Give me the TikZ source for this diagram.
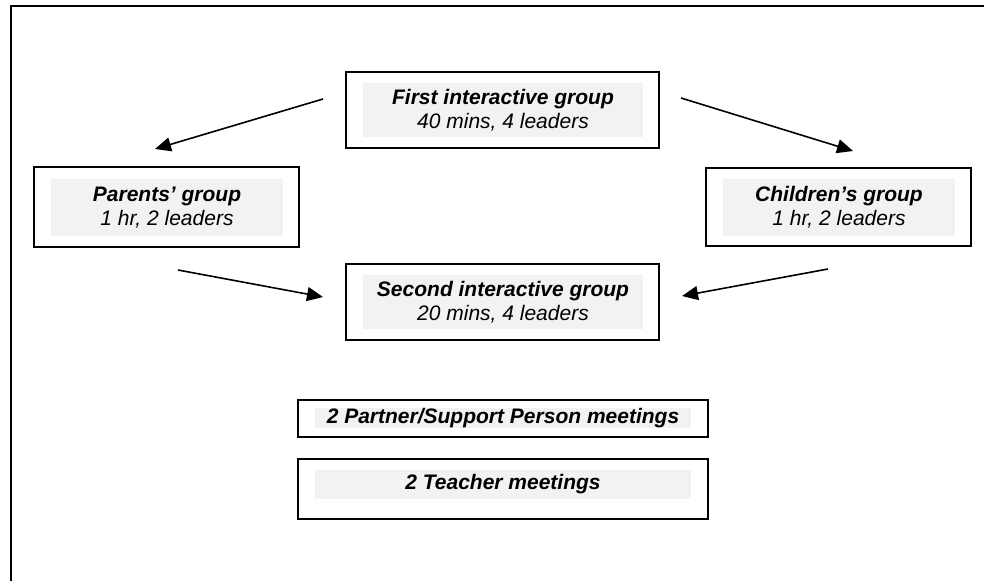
\documentclass[tikz,border=0pt]{standalone}
\usepackage{fontspec}
\setmainfont{Liberation Sans}
\usetikzlibrary{arrows.meta}
\definecolor{shade}{HTML}{F2F2F2}
\tikzset{
  x=1pt, y=-1pt,
  frame/.style={draw=black, line width=1.8pt, fill=white, inner sep=0pt},
  inner/.style={fill=shade, inner sep=0pt, align=center,
    font=\fontsize{21}{24}\selectfont\itshape},
  conn/.style={line width=1.6pt, -{Triangle[length=16pt,width=14pt]}},
  outline/.style={line width=1.8pt, draw=black}
}
\begin{document}
\begin{tikzpicture}
\useasboundingbox (0,0) rectangle (984,581);
\draw[outline] (11,581) -- (11,6) -- (984,6);

% boxes
\node[frame, minimum width=313pt, minimum height=76pt] (firstbox) at (502.5,110) {};
\node[inner, minimum width=280pt, minimum height=54pt] (first) at (503,110)
  {\textbf{First interactive group}\\40 mins, 4 leaders};

\node[frame, minimum width=265pt, minimum height=80pt] (parentsbox) at (166.5,207) {};
\node[inner, minimum width=232pt, minimum height=57pt] (parents) at (167,207.5)
  {\textbf{Parents’ group}\\1 hr, 2 leaders};

\node[frame, minimum width=265pt, minimum height=78pt] (childrenbox) at (838.5,207) {};
\node[inner, minimum width=232pt, minimum height=57pt] (children) at (839,207.5)
  {\textbf{Children’s group}\\1 hr, 2 leaders};

\node[frame, minimum width=313pt, minimum height=76pt] (secondbox) at (502.5,302) {};
\node[inner, minimum width=280pt, minimum height=54pt] (second) at (503,302)
  {\textbf{Second interactive group}\\20 mins, 4 leaders};

\node[frame, minimum width=410pt, minimum height=37pt] (partnerbox) at (503,418.5) {};
\node[inner, minimum width=376pt, minimum height=19pt] (partner) at (503,418)
  {\textbf{2 Partner/Support Person meetings}};

\node[frame, minimum width=410pt, minimum height=60pt] (teacherbox) at (503,489) {};
\node[inner, minimum width=376pt, minimum height=29pt] (teacher) at (503,484.5)
  {\textbf{2 Teacher meetings}};

% connector ends
\coordinate (a1s) at (323,99);
\coordinate (a1e) at (155,149);
\coordinate (a2s) at (681,98);
\coordinate (a2e) at (853,151);
\coordinate (a3s) at (178,270);
\coordinate (a3e) at (323,297);
\coordinate (a4s) at (828,269);
\coordinate (a4e) at (682,296);

\draw[conn] (a1s) -- (a1e);
\draw[conn] (a2s) -- (a2e);
\draw[conn] (a3s) -- (a3e);
\draw[conn] (a4s) -- (a4e);
\end{tikzpicture}
\end{document}
